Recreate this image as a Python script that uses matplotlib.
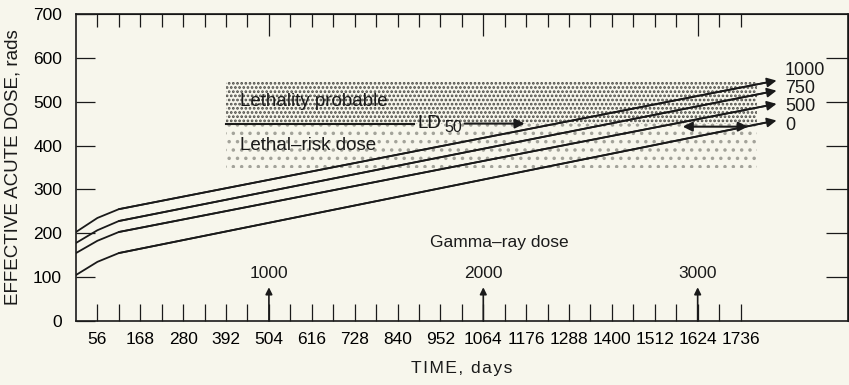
import matplotlib
matplotlib.use("Agg")
import matplotlib.pyplot as plt

# data
days = [0, 56, 112, 1830]
dose_0 = [105, 135, 155, 457]
dose_500 = [155, 183, 203, 495]
dose_750 = [178, 207, 228, 525]
dose_1000 = [203, 235, 255, 548]
curve_labels = ["1000", "750", "500", "0"]

tick_days = list(range(56, 1737, 112))
minor_days = list(range(56, 1737, 56))
gamma_days = [504, 1064, 1624]
gamma_labels = ["1000", "2000", "3000"]

ld50 = 450
zone_days = [392, 1780]
probable_band = [450, 545]
risk_band = [348, 450]

BG = "#f7f6ec"
INK = "#1a1a1a"
NARROW = ["Liberation Sans Narrow", "Liberation Sans"]
plt.rcParams["font.family"] = ["Liberation Sans", "DejaVu Sans"]
plt.rcParams["hatch.linewidth"] = 1.3


def spaced(s):
    # the original lettering of the axis title is spread out
    return "\u200a".join(s)


fig = plt.figure(figsize=(8.49, 3.85), dpi=100, facecolor=BG)
ax = fig.add_axes([0.0895, 0.166, 0.909, 0.798], facecolor=BG)
ax.set_xlim(0, 2016)
ax.set_ylim(0, 700)

# stippled zones
ax.fill_between(zone_days, risk_band[0], risk_band[1], facecolor="none",
                edgecolor="#a3a39a", hatch="..", linewidth=0)
ax.fill_between(zone_days, probable_band[0], probable_band[1], facecolor="none",
                edgecolor="#4a4a45", hatch="....", linewidth=0)

label_y = [572, 531, 488, 445]
for ys, lab, ly in zip([dose_1000, dose_750, dose_500, dose_0], curve_labels, label_y):
    ax.plot(days[:-1] + [days[-1] - 30], ys[:-1] + [ys[-1] - 5], color=INK, lw=1.3)
    ax.annotate("", xy=(days[-1], ys[-1]), xytext=(days[-2], ys[-2]),
                arrowprops=dict(arrowstyle="-|>", color=INK, lw=1.3,
                                mutation_scale=14, shrinkA=0, shrinkB=0))
    ax.text(days[-1] + 22, ly, lab, fontsize=13, va="center", ha="left", color=INK)

# LD50 line
ax.plot([zone_days[0], 882], [ld50, ld50], color=INK, lw=1.5)
ax.text(893, ld50, "LD", fontsize=13.5, va="center", ha="left", color=INK)
ax.annotate("50", xy=(962, ld50), xytext=(0, -3), textcoords="offset points",
            fontsize=11.5, va="center", ha="left", color=INK)
ax.annotate("", xy=(1172, ld50), xytext=(1015, ld50),
            arrowprops=dict(arrowstyle="-|>", color=INK, lw=1.5,
                            mutation_scale=14, shrinkA=0, shrinkB=0))
ax.annotate("", xy=(1585, 443), xytext=(1755, 443),
            arrowprops=dict(arrowstyle="<|-|>", color=INK, lw=1.5,
                            mutation_scale=14, shrinkA=0, shrinkB=0))

ax.text(428, 500, "Lethality probable", fontsize=13.5, va="center", ha="left", color=INK)
ax.text(428, 400, "Lethal\u2013risk dose", fontsize=13.5, va="center", ha="left", color=INK)
ax.text(1107, 178, "Gamma\u2013ray dose", fontsize=12.5, va="center", ha="center",
        color=INK)

# gamma-ray dose arrows
for d, lab in zip(gamma_days, gamma_labels):
    ax.annotate("", xy=(d, 77), xytext=(d, 0),
                arrowprops=dict(arrowstyle="-|>", color=INK, lw=1.2,
                                mutation_scale=10, shrinkA=0, shrinkB=0))
    ax.text(d, 108, lab, fontsize=12.5, ha="center", va="center", color=INK,
            family=NARROW)

# axes, ticks
for s in ax.spines.values():
    s.set_color(INK)
    s.set_linewidth(1.2)

ax.set_xticks(tick_days)
ax.set_xticks(minor_days, minor=True)
ax.set_yticks(range(0, 701, 100))
ax.tick_params(axis="x", which="both", direction="in", length=12, width=0.9,
               color=INK, pad=8, labelsize=12.5)
ax.tick_params(axis="y", which="both", direction="in", length=14, width=0.9,
               color=INK, pad=10, labelsize=12.5)
for lbl in ax.get_xticklabels() + ax.get_yticklabels():
    lbl.set_family(NARROW)

top = ax.secondary_xaxis("top")
top.set_xticks(gamma_days)
top.set_xticks(minor_days, minor=True)
top.tick_params(which="major", direction="in", length=16, width=0.9, color=INK,
                labeltop=False)
top.tick_params(which="minor", direction="in", length=9, width=0.9, color=INK)
top.set_xticklabels([])

right = ax.secondary_yaxis("right")
right.set_yticks(range(100, 601, 100))
right.tick_params(direction="in", length=16, width=0.9, color=INK, labelright=False)
right.set_yticklabels([])

ax.set_xlabel(spaced("TIME, days"), fontsize=12.5, color=INK, labelpad=10)
ax.set_ylabel("EFFECTIVE ACUTE DOSE, rads", fontsize=13.5, color=INK, labelpad=8)

fig.savefig("out.png", dpi=100, facecolor=BG)
